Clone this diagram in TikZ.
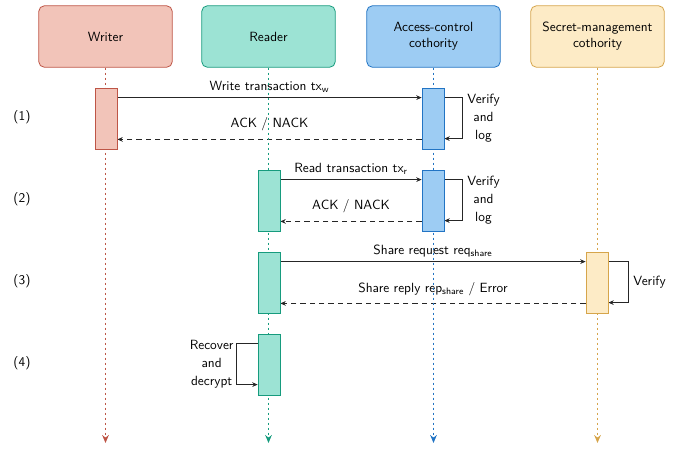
\documentclass[tikz,border=0pt]{standalone}
\usepackage{tikz}
\usetikzlibrary{arrows.meta, positioning, calc}

\definecolor{wfill}{RGB}{242,196,185}
\definecolor{wdraw}{RGB}{190,85,70}
\definecolor{rfill}{RGB}{156,227,212}
\definecolor{rdraw}{RGB}{22,155,125}
\definecolor{afill}{RGB}{157,204,243}
\definecolor{adraw}{RGB}{34,116,196}
\definecolor{sfill}{RGB}{253,235,198}
\definecolor{sdraw}{RGB}{214,165,75}

\pgfdeclarelayer{msgs}
\pgfdeclarelayer{lines}
\pgfsetlayers{msgs,lines,main}

\begin{document}
\begin{tikzpicture}[
  x=0.75pt, y=-0.75pt,
  font=\sffamily,
  actor/.style={draw, rounded corners=4pt, align=center, minimum width=100pt, minimum height=46pt, line width=0.6pt},
  bar/.style={draw, minimum width=16.5pt, minimum height=45.75pt, inner sep=0pt, line width=0.6pt},
  life/.style={line width=1.3pt, dash pattern=on 1.5pt off 2.25pt, -{Stealth[length=6pt,width=5pt]}},
  msg/.style={draw=black!85, line width=0.6pt, -{Stealth[length=4pt,width=3.5pt]}},
  reply/.style={msg, dash pattern=on 4pt off 3pt},
  note/.style={align=center, font=\sffamily\linespread{1.12}\selectfont}
]
\useasboundingbox (0,0) rectangle (688,451);

% participants
\node[actor, fill=wfill, draw=wdraw] (writer) at (105.5,36.5) {Writer};
\node[actor, fill=rfill, draw=rdraw] (reader) at (268.5,36.5) {Reader};
\node[actor, fill=afill, draw=adraw] (acc) at (433.5,36.5) {Access-control\\cothority};
\node[actor, fill=sfill, draw=sdraw] (sec) at (597.5,36.5) {Secret-management\\cothority};

% activation bars
\node[bar, fill=wfill, draw=wdraw] (wb1) at (106,118.5) {};
\node[bar, fill=afill, draw=adraw] (ab1) at (433,118.5) {};
\node[bar, fill=rfill, draw=rdraw] (rb2) at (269,200.5) {};
\node[bar, fill=afill, draw=adraw] (ab2) at (433,200.5) {};
\node[bar, fill=rfill, draw=rdraw] (rb3) at (269,282.5) {};
\node[bar, fill=sfill, draw=sdraw] (sb3) at (597,282.5) {};
\node[bar, fill=rfill, draw=rdraw] (rb4) at (269,364.5) {};

% step numbers
\node (s1) at (22,117) {(1)};
\node (s2) at (22,199) {(2)};
\node (s3) at (22,281) {(3)};
\node (s4) at (22,363) {(4)};

% lifelines
\coordinate (wend) at (105.5,443);
\coordinate (rend) at (268.5,443);
\coordinate (aend) at (433.5,443);
\coordinate (send) at (597.5,443);
\begin{pgfonlayer}{lines}
\draw[life, wdraw] (writer.south) -- (wend);
\draw[life, rdraw] (reader.south) -- (rend);
\draw[life, adraw] (acc.south) -- (aend);
\draw[life, sdraw] (sec.south) -- (send);
\end{pgfonlayer}

\begin{pgfonlayer}{msgs}
% (1) write
\draw[msg] ([yshift=-7.5pt]wb1.north east) -- ([yshift=-7.5pt]ab1.north west)
  node[midway, above] {Write transaction tx\textsubscript{w}};
\draw[reply] ([yshift=7.5pt]ab1.south west) -- ([yshift=7.5pt]wb1.south east)
  node[midway, above, yshift=3pt] {ACK / NACK};
\draw[msg] ([yshift=-7.5pt]ab1.north east) -- ++(13.5pt,0) -- ++(0,-30.75pt)
  node[midway, right, note] {Verify\\and\\log} -- ++(-13.5pt,0);

% (2) read
\draw[msg] ([yshift=-7.5pt]rb2.north east) -- ([yshift=-7.5pt]ab2.north west)
  node[midway, above] {Read transaction tx\textsubscript{r}};
\draw[reply] ([yshift=7.5pt]ab2.south west) -- ([yshift=7.5pt]rb2.south east)
  node[midway, above, yshift=3pt] {ACK / NACK};
\draw[msg] ([yshift=-7.5pt]ab2.north east) -- ++(13.5pt,0) -- ++(0,-30.75pt)
  node[midway, right, note] {Verify\\and\\log} -- ++(-13.5pt,0);

% (3) share
\draw[msg] ([yshift=-7.5pt]rb3.north east) -- ([yshift=-7.5pt]sb3.north west)
  node[midway, above] {Share request req\textsubscript{share}};
\draw[reply] ([yshift=7.5pt]sb3.south west) -- ([yshift=7.5pt]rb3.south east)
  node[midway, above, yshift=2pt] {Share reply rep\textsubscript{share} / Error};
\draw[msg] ([yshift=-7.5pt]sb3.north east) -- ++(15pt,0) -- ++(0,-30.75pt)
  node[midway, right] {Verify} -- ++(-15pt,0);

% (4) recover
\draw[msg] ([yshift=-7.5pt]rb4.north west) -- ++(-15.75pt,0) -- ++(0,-30.75pt)
  node[midway, left, note, inner sep=2pt] {Recover\\and\\decrypt} -- ++(15.75pt,0);
\end{pgfonlayer}
\end{tikzpicture}
\end{document}
